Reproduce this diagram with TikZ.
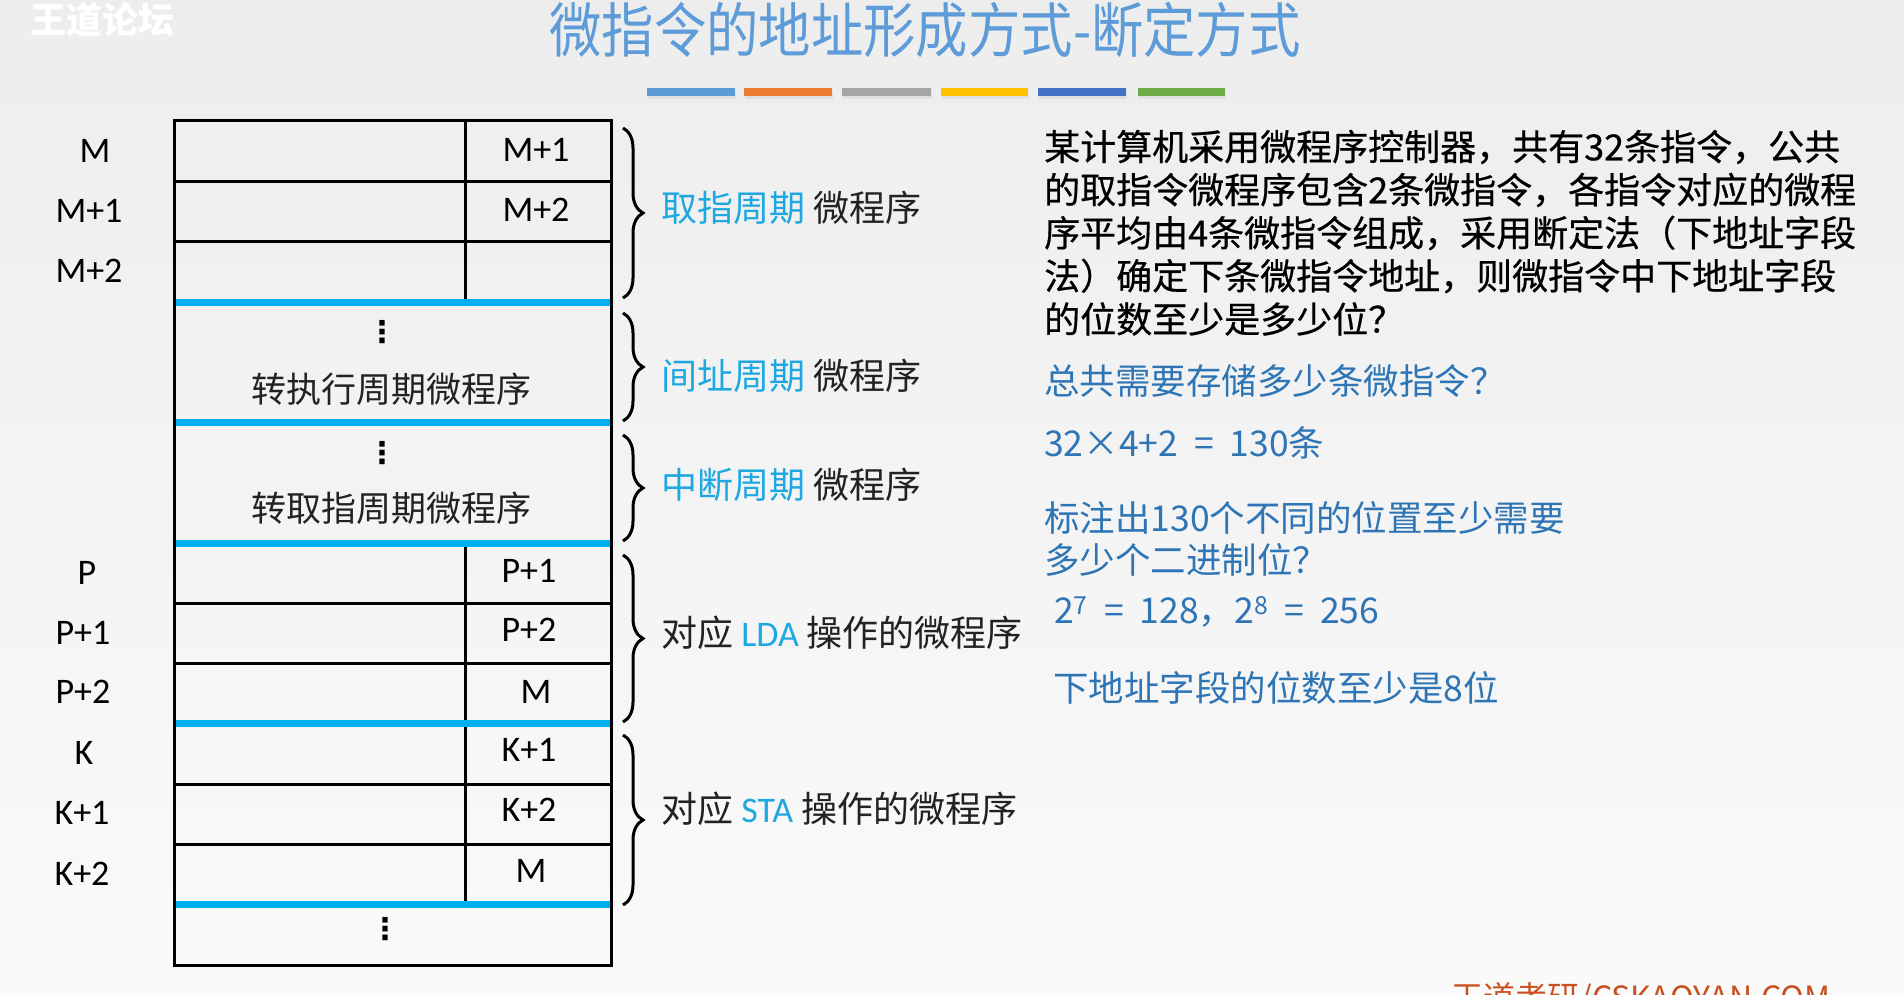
\documentclass[tikz,border=0pt]{standalone}
\usepackage{fontspec}
\setmainfont{Noto Sans CJK SC}
\newfontfamily\cjk{Noto Sans CJK SC}
\newfontfamily\cjkm[FakeBold=0.5]{Noto Sans CJK SC}
\newfontfamily\lat{Carlito}
\newfontfamily\dejavu{DejaVu Sans}
\usetikzlibrary{decorations.pathreplacing,calc}
\definecolor{titleblue}{HTML}{5D9CD8}
\definecolor{linecyan}{HTML}{00B0F0}
\definecolor{labcyan}{HTML}{1EA8E2}
\definecolor{ansblue}{HTML}{2E75B6}
\definecolor{txt}{HTML}{222222}
\definecolor{barA}{HTML}{5B9BD5}
\definecolor{barB}{HTML}{ED7D31}
\definecolor{barC}{HTML}{A5A5A5}
\definecolor{barD}{HTML}{FFC000}
\definecolor{barE}{HTML}{4472C4}
\definecolor{barF}{HTML}{70AD47}
\definecolor{footc}{HTML}{C8501E}
\tikzset{
  tabline/.style={line width=3pt, black},
  sepline/.style={line width=7pt, linecyan},
  addr/.style={font=\lat\fontsize{36}{40}\selectfont, text=black, inner sep=0pt},
  blockt/.style={font=\cjk\fontsize{35}{40}\selectfont, text=txt, inner sep=0pt},
  dotsn/.style={font=\dejavu\bfseries\fontsize{30}{30}\selectfont, text=black, inner sep=0pt},
  bracel/.style={decorate, decoration={brace, amplitude=20pt}, line width=3pt, black},
  blab/.style={font=\cjk\fontsize{36}{40}\selectfont, anchor=west, inner sep=0pt, text=txt},
  para/.style={font=\cjkm\fontsize{36}{40}\selectfont, anchor=west, inner sep=0pt, text=black},
  ans/.style={font=\cjk\fontsize{35.5}{40}\selectfont, anchor=west, inner sep=0pt, text=ansblue},
  barshadow/.style={fill=black!12},
}
\newcommand{\eqs}{\hspace{0.45em}=\hspace{0.45em}}
\begin{document}
\begin{tikzpicture}[x=1pt,y=-1pt]
\useasboundingbox (0,0) rectangle (1904,995);
\shade[top color=black!7, bottom color=black!2] (0,0) rectangle (1904,995);

% watermark
\node[font=\cjk\bfseries\fontsize{36}{40}\selectfont, text=white, anchor=west, inner sep=0pt] (wm) at (30,20) {王道论坛};

% title
\node[font=\cjk\fontsize{54}{60}\selectfont, text=titleblue, inner sep=0pt] (title) at (925,30) {\scalebox{0.97}[1.1]{微指令的地址形成方式-断定方式}};

% colour bars
\foreach \xa/\xb/\c [count=\i] in {647/735/barA,744/832/barB,842/931/barC,941/1028/barD,1038/1126/barE,1138/1225/barF}{
  \fill[barshadow] (\xa+1,91) rectangle (\xb+1,99);
  \fill[\c] (\xa,88) rectangle (\xb,96);
}

% table geometry
\coordinate (tl) at (174,121);
\coordinate (br) at (611,965);
% black row lines
\foreach \yy in {181.3,241.6,603.4,663.7,784.3,844.6}{
  \draw[tabline] (174,\yy) -- (611,\yy);
}
% divider
\draw[tabline] (465,121) -- (465,302);
\draw[tabline] (465,543) -- (465,905);
% outer frame
\draw[tabline] (tl) rectangle (br);
% blue separators
\foreach \yy in {302,422.5,543,723.7,904.6}{
  \draw[sepline] (175.5,\yy) -- (609.5,\yy);
}

% left address labels
\node[addr] (aM)  at (95,151) {M};
\node[addr] (aM1) at (89,211) {M+1};
\node[addr] (aM2) at (89,271) {M+2};
\node[addr] (aP)  at (87,573) {P};
\node[addr] (aP1) at (83,633) {P+1};
\node[addr] (aP2) at (83,692) {P+2};
\node[addr] (aK)  at (84,753) {K};
\node[addr] (aK1) at (82,813) {K+1};
\node[addr] (aK2) at (82,874) {K+2};

% next-address cells
\node[addr] (nM1) at (536,150) {M+1};
\node[addr] (nM2) at (536,210) {M+2};
\node[addr] (nP1) at (529,571) {P+1};
\node[addr] (nP2) at (529,630) {P+2};
\node[addr] (nPM) at (536,692) {M};
\node[addr] (nK1) at (529,750) {K+1};
\node[addr] (nK2) at (529,810) {K+2};
\node[addr] (nKM) at (531,871) {M};

% blocks
\node[dotsn] (d1) at (382,332) {⋮};
\node[blockt] (blk1) at (391,389) {转执行周期微程序};
\node[dotsn] (d2) at (382,453) {⋮};
\node[blockt] (blk2) at (391,508) {转取指周期微程序};
\node[dotsn] (d3) at (385,929) {⋮};

% braces
\coordinate (b1s) at (623,128); \coordinate (b1e) at (623,298);
\coordinate (b2s) at (623,313); \coordinate (b2e) at (623,421);
\coordinate (b3s) at (623,435); \coordinate (b3e) at (623,541);
\coordinate (b4s) at (623,555); \coordinate (b4e) at (623,722);
\coordinate (b5s) at (623,735); \coordinate (b5e) at (623,905);
\draw[bracel] (b1s) -- (b1e);
\draw[bracel] (b2s) -- (b2e);
\draw[bracel] (b3s) -- (b3e);
\draw[bracel] (b4s) -- (b4e);
\draw[bracel] (b5s) -- (b5e);

\node[blab] (l1) at (661,208) {\textcolor{labcyan}{取指周期} 微程序};
\node[blab] (l2) at (661,376) {\textcolor{labcyan}{间址周期} 微程序};
\node[blab] (l3) at (661,485) {\textcolor{labcyan}{中断周期} 微程序};
\node[blab] (l4) at (661,633) {对应 \textcolor{labcyan}{\lat LDA} 操作的微程序};
\node[blab] (l5) at (661,809) {对应 \textcolor{labcyan}{\lat STA} 操作的微程序};

% question paragraph
\node[para] (q1) at (1044,147) {某计算机采用微程序控制器，共有32条指令，公共};
\node[para] (q2) at (1044,190) {的取指令微程序包含2条微指令，各指令对应的微程};
\node[para] (q3) at (1044,233) {序平均由4条微指令组成，采用断定法（下地址字段};
\node[para] (q4) at (1044,276) {法）确定下条微指令地址，则微指令中下地址字段};
\node[para] (q5) at (1044,319) {的位数至少是多少位？};

% answers
\node[ans] (s1) at (1044,381) {总共需要存储多少条微指令？};
\node[ans] (s2) at (1044,443) {32×4+2\eqs 130条};
\node[ans] (s3) at (1044,518) {标注出130个不同的位置至少需要};
\node[ans] (s4) at (1044,560) {多少个二进制位？};
\node[ans] (s5) at (1054,612) {2\textsuperscript{7}\eqs 128，2\textsuperscript{8}\eqs 256};
\node[ans] (s6) at (1053,688) {下地址字段的位数至少是8位};

% footer (cut by page edge, as in the reference)
\node[font=\cjk\fontsize{32}{34}\selectfont, text=footc, anchor=north, inner sep=0pt] (foot) at (1641,982) {王道考研/CSKAOYAN.COM};
\end{tikzpicture}
\end{document}
